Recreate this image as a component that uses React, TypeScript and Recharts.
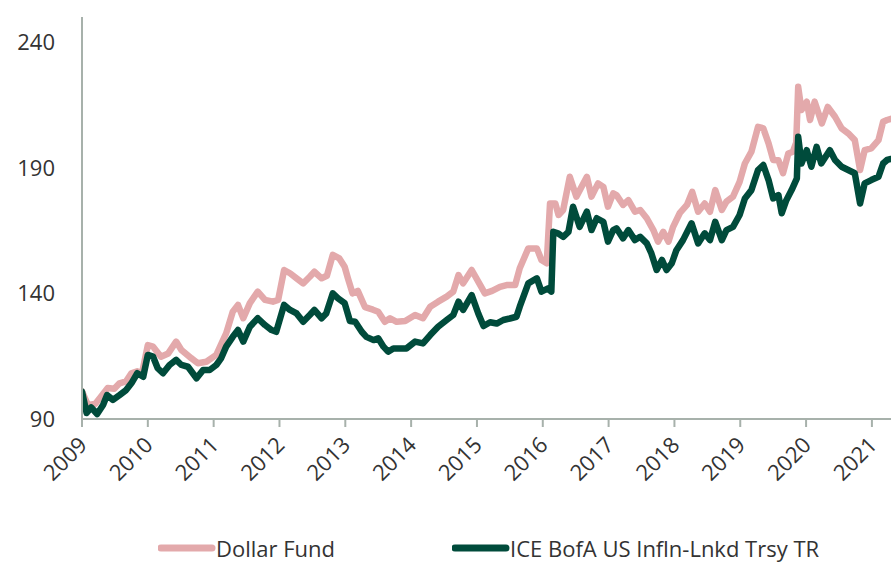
import { LineChart, Line, XAxis, YAxis, Legend } from "recharts";

// decimal-year dates and values
const fundDates = [
  2009.0, 2009.09, 2009.2, 2009.29, 2009.39, 2009.49, 2009.57, 2009.67, 2009.75, 2009.84, 2009.91,
  2010.0, 2010.08, 2010.2, 2010.31, 2010.43, 2010.51, 2010.66, 2010.76, 2010.89,
  2011.04, 2011.12, 2011.19, 2011.29, 2011.37, 2011.45, 2011.55, 2011.67, 2011.78, 2011.9, 2011.98,
  2012.07, 2012.16, 2012.26, 2012.36, 2012.46, 2012.53, 2012.64, 2012.72, 2012.81, 2012.91, 2012.99,
  2013.04, 2013.11, 2013.19, 2013.3, 2013.42, 2013.5, 2013.6, 2013.68, 2013.78, 2013.91,
  2014.06, 2014.18, 2014.29, 2014.41, 2014.54, 2014.64, 2014.72, 2014.79, 2014.92,
  2015.05, 2015.12, 2015.23, 2015.35, 2015.45, 2015.58, 2015.65, 2015.78, 2015.91, 2015.98,
  2016.06, 2016.11, 2016.19, 2016.24, 2016.31, 2016.41, 2016.51, 2016.67, 2016.74, 2016.84, 2016.92, 2016.99,
  2017.07, 2017.12, 2017.22, 2017.3, 2017.4, 2017.48, 2017.58, 2017.68, 2017.75, 2017.83, 2017.91, 2017.98,
  2018.08, 2018.19, 2018.27, 2018.36, 2018.46, 2018.54, 2018.62, 2018.72, 2018.79, 2018.89, 2018.99,
  2019.07, 2019.17, 2019.27, 2019.35, 2019.43, 2019.5, 2019.58, 2019.65, 2019.73, 2019.8, 2019.85, 2019.88, 2019.93,
  2020.01, 2020.06, 2020.13, 2020.24, 2020.33, 2020.44, 2020.54, 2020.64, 2020.74, 2020.82, 2020.89, 2020.99,
  2021.1, 2021.17, 2021.23, 2021.29,
];
const fundValues = [
  101.0, 95.6, 96.0, 99.0, 102.3, 102.0, 104.2, 105.0, 108.2, 109.0, 108.0,
  119.4, 118.8, 114.8, 116.1, 120.8, 117.5, 114.2, 112.2, 112.8,
  115.5, 120.1, 124.1, 132.7, 135.4, 130.1, 136.1, 140.7, 137.4, 136.7, 137.4,
  149.3, 148.0, 146.0, 144.0, 146.6, 148.6, 146.0, 147.0, 155.3, 153.9, 150.6,
  146.0, 140.0, 141.0, 134.5, 133.5, 132.7, 128.7, 130.1, 128.7, 129.0,
  131.4, 130.1, 134.7, 136.7, 138.7, 140.7, 147.3, 144.0, 149.3,
  143.3, 140.0, 141.0, 142.6, 143.3, 143.3, 150.0, 157.9, 157.9, 153.3,
  152.0, 175.8, 175.8, 171.2, 173.2, 186.4, 178.5, 186.4, 178.5, 183.8, 182.4, 174.5,
  179.8, 179.1, 175.2, 177.1, 172.5, 173.2, 169.9, 165.2, 160.6, 164.5, 160.6, 166.5,
  171.9, 175.2, 180.4, 172.5, 175.8, 172.5, 181.1, 173.2, 176.5, 178.5, 184.4,
  191.7, 196.4, 206.3, 205.7, 199.7, 193.1, 193.0, 187.8, 195.7, 196.4, 200.0, 222.2, 213.0,
  216.3, 209.0, 216.3, 207.6, 214.2, 210.3, 205.7, 203.7, 201.0, 189.1, 197.0, 197.7,
  201.0, 208.3, 209.0, 209.5,
];

const indexDates = [
  2009.0, 2009.07, 2009.14, 2009.23, 2009.32, 2009.38, 2009.47, 2009.57, 2009.67, 2009.75, 2009.84, 2009.93,
  2010.0, 2010.08, 2010.15, 2010.23, 2010.33, 2010.43, 2010.51, 2010.61, 2010.74, 2010.84, 2010.94,
  2011.04, 2011.11, 2011.19, 2011.29, 2011.37, 2011.45, 2011.55, 2011.67, 2011.78, 2011.88, 2011.95,
  2012.07, 2012.16, 2012.26, 2012.36, 2012.46, 2012.53, 2012.64, 2012.71, 2012.81, 2012.89, 2012.99,
  2013.07, 2013.15, 2013.25, 2013.32, 2013.43, 2013.5, 2013.58, 2013.65, 2013.73, 2013.83, 2013.93,
  2014.06, 2014.18, 2014.29, 2014.41, 2014.54, 2014.64, 2014.72, 2014.79, 2014.92,
  2015.02, 2015.1, 2015.2, 2015.3, 2015.4, 2015.5, 2015.6, 2015.65, 2015.78, 2015.91, 2015.98,
  2016.08, 2016.13, 2016.16, 2016.23, 2016.31, 2016.39, 2016.46, 2016.56, 2016.67, 2016.74, 2016.82, 2016.92, 2016.99,
  2017.07, 2017.12, 2017.22, 2017.3, 2017.4, 2017.48, 2017.58, 2017.65, 2017.73, 2017.81, 2017.88, 2017.96,
  2018.03, 2018.13, 2018.26, 2018.36, 2018.46, 2018.54, 2018.62, 2018.72, 2018.79, 2018.89, 2018.99,
  2019.07, 2019.17, 2019.27, 2019.35, 2019.43, 2019.5, 2019.58, 2019.63, 2019.7, 2019.78, 2019.86, 2019.88, 2019.93,
  2020.01, 2020.08, 2020.16, 2020.23, 2020.36, 2020.44, 2020.54, 2020.64, 2020.74, 2020.82, 2020.89, 2020.99,
  2021.1, 2021.17, 2021.23, 2021.29,
];
const indexValues = [
  100.9, 92.4, 94.6, 92.0, 95.6, 99.5, 97.6, 99.5, 101.5, 104.2, 108.2, 106.8,
  115.5, 114.8, 110.2, 108.2, 111.5, 113.5, 111.5, 110.8, 106.2, 109.5, 109.5,
  111.5, 114.0, 118.8, 122.7, 125.4, 120.8, 126.7, 130.1, 127.4, 125.4, 124.7,
  135.4, 133.4, 132.0, 128.7, 131.4, 133.4, 130.1, 132.0, 140.0, 138.0, 136.1,
  129.0, 128.7, 124.7, 122.7, 121.4, 122.1, 118.8, 116.8, 118.1, 118.1, 118.1,
  120.8, 120.1, 123.4, 126.7, 129.4, 131.4, 136.7, 133.4, 139.3,
  132.0, 127.0, 128.5, 128.0, 129.4, 130.0, 130.7, 134.7, 144.0, 146.0, 140.7,
  142.0, 140.7, 164.5, 163.9, 162.5, 164.5, 174.5, 166.5, 172.5, 165.2, 169.9, 168.5, 160.6,
  165.2, 165.9, 161.9, 165.2, 161.2, 162.5, 159.9, 155.9, 149.3, 153.3, 149.3, 152.0,
  157.2, 161.2, 167.9, 159.9, 163.9, 161.2, 168.5, 161.2, 165.2, 166.5, 171.2,
  177.8, 181.1, 189.1, 191.1, 185.1, 177.8, 179.1, 171.9, 177.1, 181.1, 185.8, 202.3, 191.7,
  197.0, 190.4, 198.3, 191.7, 197.0, 193.1, 190.4, 189.1, 187.8, 175.8, 183.8, 185.1,
  186.4, 191.7, 193.1, 193.5,
];

const yearTicks = [2009, 2010, 2011, 2012, 2013, 2014, 2015, 2016, 2017, 2018, 2019, 2020, 2021];
const valueTicks = [90, 140, 190, 240];

const FUND_COLOR = "#e3a9ab";
const INDEX_COLOR = "#004b3b";
const AXIS_COLOR = "#a7b1ab";
const TEXT_COLOR = "#333333";
const FONT = '"Open Sans", sans-serif';

const fundData = fundDates.map((t, i) => ({ t, v: fundValues[i] }));
const indexData = indexDates.map((t, i) => ({ t, v: indexValues[i] }));

// rotated year label, its end sits just below and left of the tick mark
function YearTick({ x, y, payload }: any) {
  const tx = x + 1;
  const ty = y + 12;
  return (
    <text
      x={tx}
      y={ty}
      transform={`rotate(-45, ${tx}, ${ty})`}
      textAnchor="end"
      dy="0.35em"
      fill={TEXT_COLOR}
      fontSize={22}
      fontFamily={FONT}
    >
      {payload.value}
    </text>
  );
}

const legendWidths = [294, 420];

function ChartLegend({ payload }: any) {
  return (
    <div
      style={{
        display: "flex",
        alignItems: "center",
        paddingLeft: 158,
        height: 28,
        lineHeight: "28px",
        fontFamily: FONT,
        fontSize: 22,
        color: TEXT_COLOR,
      }}
    >
      {(payload || []).map((p: any, i: number) => (
        <div key={i} style={{ display: "flex", alignItems: "center", width: legendWidths[i] }}>
          <svg width={58} height={10}>
            <line x1={3} y1={5} x2={54} y2={5} stroke={p.color} strokeWidth={7} strokeLinecap="round" />
          </svg>
          <span style={{ whiteSpace: "nowrap" }}>{p.value}</span>
        </div>
      ))}
    </div>
  );
}

export default function App() {
  return (
    <div style={{ position: "absolute", left: 0, top: 0, background: "#fff" }}>
      <LineChart width={891} height={563} margin={{ top: 17, right: 0, left: 0, bottom: 84 }}>
        <XAxis
          type="number"
          dataKey="t"
          domain={[2009, 2021.29]}
          ticks={yearTicks}
          interval={0}
          allowDataOverflow
          height={60}
          tickSize={8}
          tickMargin={2}
          axisLine={{ stroke: AXIS_COLOR, strokeWidth: 2 }}
          tickLine={{ stroke: AXIS_COLOR, strokeWidth: 2 }}
          tick={<YearTick />}
        />
        <YAxis
          type="number"
          domain={[90, 250]}
          ticks={valueTicks}
          interval={0}
          width={82}
          axisLine={{ stroke: AXIS_COLOR, strokeWidth: 2 }}
          tickLine={false}
          tickSize={0}
          tickMargin={27}
          tick={{ fill: TEXT_COLOR, fontSize: 22, fontFamily: FONT }}
        />
        <Legend
          layout="horizontal"
          verticalAlign="middle"
          align="center"
          wrapperStyle={{ top: 534, left: 0, width: 891, height: 28 }}
          content={<ChartLegend />}
        />
        <Line
          data={fundData}
          dataKey="v"
          name="Dollar Fund"
          type="linear"
          stroke={FUND_COLOR}
          strokeWidth={6.5}
          strokeLinejoin="round"
          strokeLinecap="round"
          dot={false}
          isAnimationActive={false}
        />
        <Line
          data={indexData}
          dataKey="v"
          name="ICE BofA US Infln-Lnkd Trsy TR"
          type="linear"
          stroke={INDEX_COLOR}
          strokeWidth={6.5}
          strokeLinejoin="round"
          strokeLinecap="round"
          dot={false}
          isAnimationActive={false}
        />
      </LineChart>
    </div>
  );
}
